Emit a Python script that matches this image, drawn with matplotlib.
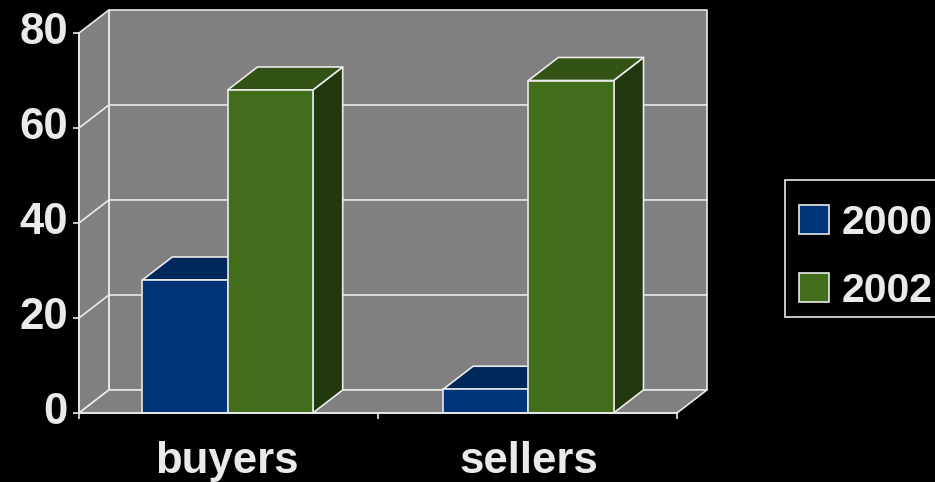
import matplotlib
matplotlib.use("Agg")
import matplotlib.pyplot as plt
from matplotlib.patches import Patch, Polygon, Rectangle
from matplotlib.transforms import ScaledTranslation

plt.rcParams["font.family"] = ["Liberation Sans", "DejaVu Sans"]

categories = ["buyers", "sellers"]
series_names = ["2000", "2002"]
values_2000 = [28, 5]
values_2002 = [68, 70]
y_ticks = [0, 20, 40, 60, 80]

LINE = "#EAEAEA"
WALL = "#808080"
# front, top, side
BLUE = ("#003478", "#00275A", "#001A3C")
GREEN = ("#426E1C", "#325315", "#21370E")

# oblique depth of the fake 3D, in data units
DX = 0.1
DY = 4.85
BAR_W = 0.285
LW = 1.2
FONT = 31.5
LEGEND_FONT = 29.5
# the groups sit a little off the middle of their slots
GROUP_SHIFT = [-0.003, 0.003]


def face(ax, pts, color, zorder=1):
    ax.add_patch(Polygon(pts, closed=True, facecolor=color, edgecolor=LINE,
                         linewidth=LW, joinstyle="round", clip_on=False, zorder=zorder))


def draw_bar(ax, x0, h, colors):
    x1 = x0 + BAR_W
    face(ax, [(x1, 0), (x1 + DX, DY), (x1 + DX, h + DY), (x1, h)], colors[2], 3)
    face(ax, [(x0, h), (x0 + DX, h + DY), (x1 + DX, h + DY), (x1, h)], colors[1], 3)
    face(ax, [(x0, 0), (x1, 0), (x1, h), (x0, h)], colors[0], 3)


fig = plt.figure(figsize=(9.35, 4.82), dpi=100, facecolor="black")
ax = fig.add_axes([79 / 935, 69 / 482, 598 / 935, 380 / 482])
ax.set_facecolor("none")
ax.set_xlim(0, len(categories))
ax.set_ylim(0, y_ticks[-1])

# walls and floor
top = y_ticks[-1]
end = len(categories)
face(ax, [(DX, DY), (end + DX, DY), (end + DX, top + DY), (DX, top + DY)], WALL)
face(ax, [(0, 0), (DX, DY), (DX, top + DY), (0, top)], WALL)
face(ax, [(0, 0), (end, 0), (end + DX, DY), (DX, DY)], WALL)

for t in y_ticks[1:-1]:
    ax.plot([0, DX, end + DX], [t, t + DY, t + DY], color=LINE, lw=LW,
            clip_on=False, zorder=2)

for i in range(len(categories)):
    center = i + 0.5 + GROUP_SHIFT[i]
    draw_bar(ax, center - BAR_W, values_2000[i], BLUE)
    draw_bar(ax, center, values_2002[i], GREEN)

for side in ["top", "right"]:
    ax.spines[side].set_visible(False)
for side in ["left", "bottom"]:
    ax.spines[side].set_color(LINE)
    ax.spines[side].set_linewidth(LW)
    ax.spines[side].set_zorder(10)

ax.set_yticks(y_ticks)
ax.set_xticks(range(len(categories) + 1))
ax.set_xticklabels([])
ax.set_xticks([i + 0.5 + 2 * GROUP_SHIFT[i] for i in range(len(categories))], minor=True)
ax.set_xticklabels(categories, minor=True)
ax.tick_params(axis="y", colors=LINE, labelsize=FONT, length=4, width=LW, pad=4)
ax.tick_params(axis="x", which="major", color=LINE, length=4, width=LW)
ax.tick_params(axis="x", which="minor", length=0, labelsize=FONT, labelcolor=LINE, pad=20.5)
up = ScaledTranslation(0, 5 / 100, fig.dpi_scale_trans)
for lab in ax.get_yticklabels():
    lab.set_fontweight("bold")
    lab.set_transform(lab.get_transform() + up)
for lab in ax.get_xticklabels(minor=True):
    lab.set_fontweight("bold")

# legend frame runs off the right edge of the picture
fig.add_artist(Rectangle((785 / 935, 1 - 317 / 482), 200 / 935, 137 / 482,
                         transform=fig.transFigure, facecolor="black",
                         edgecolor=LINE, linewidth=LW))
handles = [Patch(facecolor=BLUE[0], edgecolor=LINE, linewidth=LW),
           Patch(facecolor=GREEN[0], edgecolor=LINE, linewidth=LW)]
leg = fig.legend(handles, series_names, loc="upper left",
                 bbox_to_anchor=(785 / 935, 1 - 190 / 482), borderaxespad=0,
                 handlelength=0.73, handleheight=0.73,
                 handletextpad=0.32, borderpad=0.34, labelspacing=0.73,
                 frameon=False, labelcolor=LINE,
                 prop={"weight": "bold", "size": LEGEND_FONT})

fig.savefig("out.png", dpi=100, facecolor="black")
